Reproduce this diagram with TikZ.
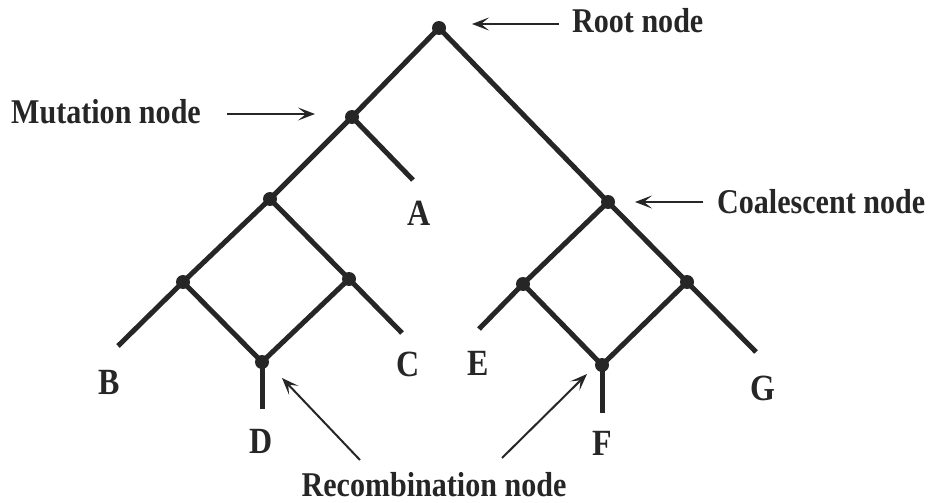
\documentclass[tikz,border=0pt]{standalone}
\usepackage{fontspec}
\usepackage{graphicx}
\setmainfont{Liberation Serif}
\usetikzlibrary{arrows.meta}
\newcommand{\talltext}[1]{\scalebox{0.97}[1.12]{#1}}
\begin{document}
\begin{tikzpicture}[x=1pt,y=-1pt,
  branch/.style={line width=5pt,line join=round,color=black!85},
  dot/.style={circle,fill=black!85,inner sep=0pt,minimum size=14pt},
  lbl/.style={font=\fontsize{31}{34}\selectfont\bfseries,text=black!85,inner sep=0pt},
  leaf/.style={font=\fontsize{33}{36}\selectfont\bfseries,text=black!85,inner sep=0pt},
  pointer/.style={line width=2pt,color=black!85,-{Stealth[length=17pt,width=13pt,inset=8pt]}}]
\useasboundingbox (0,0) rectangle (940,503);
% tree points
\coordinate (root) at (439,28);
\coordinate (mut) at (352,117);
\coordinate (aend) at (413,180);
\coordinate (n1) at (270,199);
\coordinate (l1) at (183,282);
\coordinate (r1) at (349,279);
\coordinate (d1) at (262,362);
\coordinate (dend) at (262,409);
\coordinate (bend) at (118,346);
\coordinate (cend) at (402,333);
\coordinate (coal) at (608,202);
\coordinate (l2) at (523,284);
\coordinate (r2) at (687,282);
\coordinate (f1) at (602,365);
\coordinate (fend) at (602,413);
\coordinate (eend) at (479,329);
\coordinate (gend) at (756,352);
% branches
\draw[branch] (bend) -- (l1) -- (n1) -- (mut) -- (root) -- (coal) -- (r2) -- (gend);
\draw[branch] (mut) -- (aend);
\draw[branch] (n1) -- (r1) -- (cend);
\draw[branch] (l1) -- (d1) -- (r1);
\draw[branch] (d1) -- (dend);
\draw[branch] (eend) -- (l2) -- (coal);
\draw[branch] (l2) -- (f1) -- (r2);
\draw[branch] (f1) -- (fend);
% dots
\foreach \p in {root,mut,n1,l1,r1,d1,coal,l2,r2,f1}
  \node[dot] (dot-\p) at (\p) {};
% leaf labels
\node[leaf] (A) at (419,213) {\talltext{A}};
\node[leaf] (B) at (109,382) {\talltext{B}};
\node[leaf] (C) at (408,364) {\talltext{C}};
\node[leaf] (D) at (261,441) {\talltext{D}};
\node[leaf] (E) at (478,363) {\talltext{E}};
\node[leaf] (F) at (602,443) {\talltext{F}};
\node[leaf] (G) at (763,388) {\talltext{G}};
% annotation labels
\node[lbl,anchor=base west] (mutlbl) at (11,123) {\talltext{Mutation node}};
\node[lbl,anchor=base west] (rootlbl) at (572,33) {\talltext{Root node}};
\node[lbl,anchor=base west] (coallbl) at (717,213) {\talltext{Coalescent node}};
\node[lbl,anchor=base] (reclbl) at (434,496) {\talltext{Recombination node}};
% arrow endpoints
\coordinate (ma1) at (227,114); \coordinate (ma2) at (315,114);
\coordinate (ra1) at (559,24); \coordinate (ra2) at (472,24);
\coordinate (ca1) at (703,202); \coordinate (ca2) at (635,202);
\coordinate (rd1) at (360,460); \coordinate (rd2) at (282,378);
\coordinate (rf1) at (502,458); \coordinate (rf2) at (587,374);
\draw[pointer] (ma1) -- (ma2);
\draw[pointer] (ra1) -- (ra2);
\draw[pointer] (ca1) -- (ca2);
\draw[pointer] (rd1) -- (rd2);
\draw[pointer] (rf1) -- (rf2);
\end{tikzpicture}
\end{document}
